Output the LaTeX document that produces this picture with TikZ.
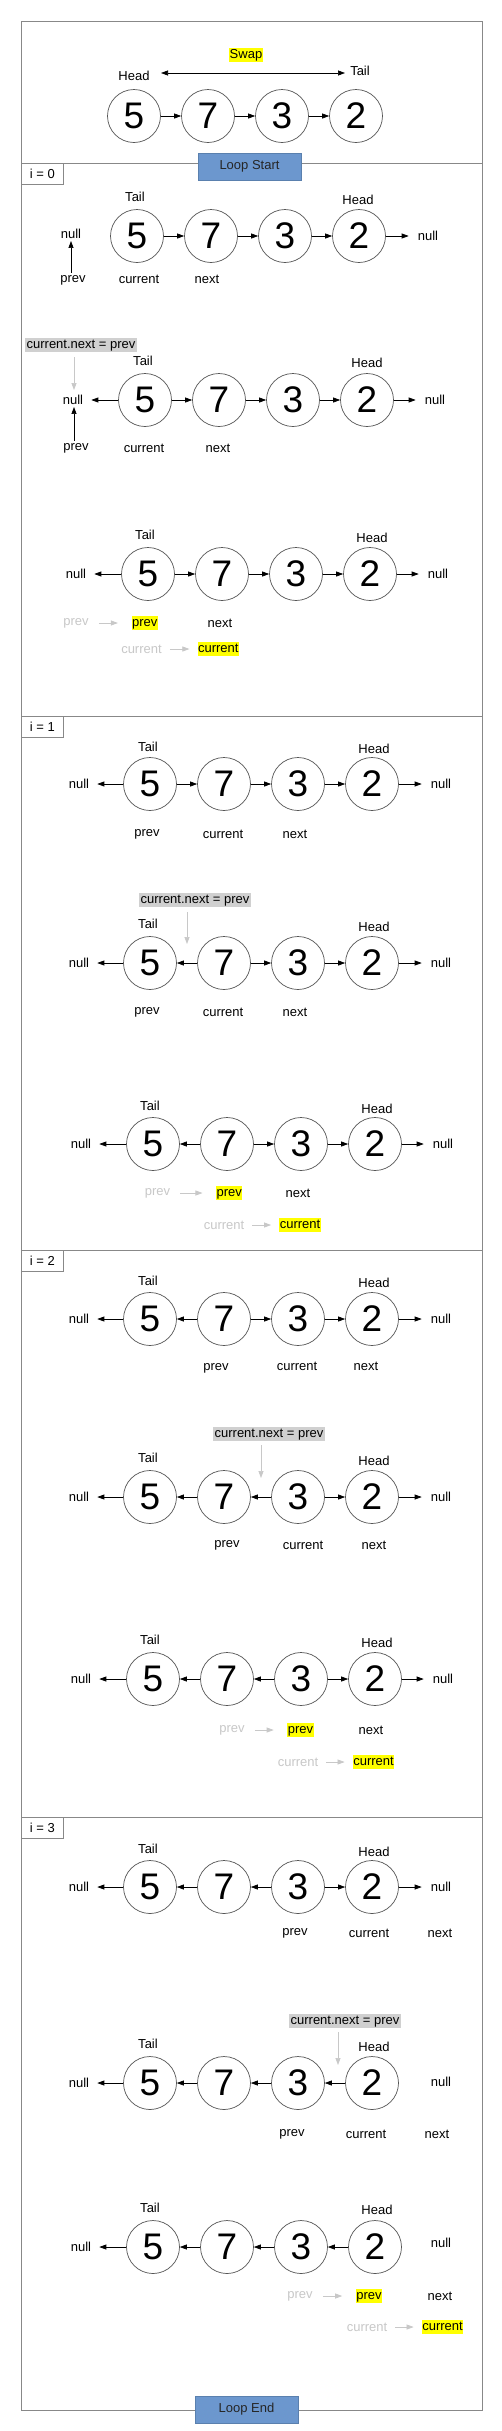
\documentclass[tikz,border=0pt]{standalone}
\usepackage{fontspec}
\setmainfont{Liberation Sans}
\usetikzlibrary{arrows.meta}
\definecolor{framec}{HTML}{888888}
\definecolor{circc}{HTML}{555555}
\definecolor{loopfill}{HTML}{6C97CE}
\definecolor{loopdraw}{HTML}{5A80AE}
\definecolor{hlyellow}{HTML}{FFFF00}
\definecolor{hlgray}{HTML}{D0D0D0}
\definecolor{fadec}{HTML}{C8C8C8}
\newcommand{\mkrow}[3]{%
  \node[cnode] (#1a) at (#2,#3) {5};
  \node[cnode] (#1b) at ({#2+74},#3) {7};
  \node[cnode] (#1c) at ({#2+148},#3) {3};
  \node[cnode] (#1d) at ({#2+222},#3) {2};
}
\begin{document}
\begin{tikzpicture}[x=1pt,y=-1pt,
  cnode/.style={circle,draw=circc,line width=0.7pt,minimum size=53pt,inner sep=0pt,font=\fontsize{37}{37}\selectfont},
  lab/.style={inner sep=2pt,font=\fontsize{13}{15}\selectfont},
  ylab/.style={lab,fill=hlyellow,inner xsep=0.5pt,inner ysep=1pt,text height=9.5pt,text depth=2.8pt},
  glab/.style={lab,fill=hlgray,inner xsep=1.2pt,inner ysep=1.2pt,text height=9.5pt,text depth=2.8pt},
  flab/.style={lab,text=fadec},
  lnk/.style={-{Triangle[length=7pt,width=5pt]},line width=0.7pt,black},
  lnkL/.style={lnk,shorten >=6pt},
  lnkR/.style={lnk,shorten >=7pt},
  flnk/.style={-{Triangle[length=7pt,width=5pt]},line width=0.7pt,fadec},
  fprev/.style={flnk,shorten <=8pt,shorten >=13.5pt},
  fcur/.style={flnk,shorten <=6pt,shorten >=8pt},
  ibox/.style={draw=framec,fill=white,line width=0.9pt,minimum width=42pt,minimum height=21pt,anchor=north west,inner sep=0pt,font=\fontsize{13}{15}\selectfont},
  loopbox/.style={draw=loopdraw,fill=loopfill,line width=0.6pt,minimum width=103pt,minimum height=27pt,inner sep=0pt,font=\fontsize{13}{15}\selectfont,text=black!85}
]
\useasboundingbox (0,0) rectangle (502,2431);
\fill[white] (0,0) rectangle (502,2431);
% frame
\draw[framec,line width=0.9pt] (21,21) rectangle (482,2410);
\foreach \yy in {163,716,1250,1817} \draw[framec,line width=0.9pt] (21,\yy) -- (482,\yy);
\node[ibox] (i0) at (21,163) {i = 0};
\node[ibox] (i1) at (21,716) {i = 1};
\node[ibox] (i2) at (21,1250) {i = 2};
\node[ibox] (i3) at (21,1817) {i = 3};

% ---------- top ----------
\node[ylab] (swap) at (246,55) {Swap};
\node[lab] (Thead) at (134,76) {Head};
\node[lab] (Ttail) at (360,71) {Tail};
\coordinate (sw1) at (161,73);
\coordinate (sw2) at (345,73);
\draw[{Triangle[length=7pt,width=5pt]}-{Triangle[length=7pt,width=5pt]},line width=0.7pt] (sw1) -- (sw2);
\mkrow{T}{134}{116}
\draw[lnk] (Ta) -- (Tb); \draw[lnk] (Tb) -- (Tc); \draw[lnk] (Tc) -- (Td);
\node[loopbox] (loopstart) at (249.5,166.5) {Loop Start};

% ---------- i = 0 ----------
% A1
\node[lab] (A1tail) at (135,197) {Tail};
\node[lab] (A1head) at (358,200) {Head};
\mkrow{A1}{137}{236}
\node[lab] (A1nl) at (71,234) {null};
\node[lab] (A1nr) at (428,236) {null};
\node[lab] (A1prev) at (73,280) {prev};
\node[lab] (A1cur) at (139,279) {current};
\node[lab] (A1next) at (207,279) {next};
\draw[lnk] (A1a) -- (A1b); \draw[lnk] (A1b) -- (A1c); \draw[lnk] (A1c) -- (A1d);
\draw[lnkR] (A1d) -- (A1nr);
\draw[lnk] (A1prev.north -| A1nl) -- (A1nl.south);
% A2
\node[glab] (A2op) at (81,345) {current.next = prev};
\coordinate (A2g1) at (74,357); \coordinate (A2g2) at (74,390);
\draw[flnk] (A2g1) -- (A2g2);
\node[lab] (A2tail) at (143,361) {Tail};
\node[lab] (A2head) at (367,363) {Head};
\mkrow{A2}{145}{400}
\node[lab] (A2nl) at (73,400) {null};
\node[lab] (A2nr) at (435,400) {null};
\node[lab] (A2prev) at (76,448) {prev};
\node[lab] (A2cur) at (144,448) {current};
\node[lab] (A2next) at (218,448) {next};
\draw[lnkL] (A2a) -- (A2nl);
\draw[lnk] (A2a) -- (A2b); \draw[lnk] (A2b) -- (A2c); \draw[lnk] (A2c) -- (A2d);
\draw[lnkR] (A2d) -- (A2nr);
\draw[lnk] (A2prev.north -| A2g1) -- (A2nl.south -| A2g1);
% A3
\node[lab] (A3tail) at (145,535) {Tail};
\node[lab] (A3head) at (372,538) {Head};
\mkrow{A3}{148}{574}
\node[lab] (A3nl) at (76,574) {null};
\node[lab] (A3nr) at (438,574) {null};
\draw[lnkL] (A3a) -- (A3nl);
\draw[lnk] (A3a) -- (A3b); \draw[lnk] (A3b) -- (A3c); \draw[lnk] (A3c) -- (A3d);
\draw[lnkR] (A3d) -- (A3nr);
\node[flab] (A3pg) at (76,623) {prev};
\node[ylab] (A3py) at (144.7,623) {prev};
\node[lab] (A3next) at (220,623) {next};
\node[flab] (A3cg) at (141.5,649) {current};
\node[ylab] (A3cy) at (218.3,649) {current};
\draw[fprev] (A3pg) -- (A3py);
\draw[fcur] (A3cg) -- (A3cy);

% ---------- i = 1 ----------
% B1
\node[lab] (B1tail) at (148,747) {Tail};
\node[lab] (B1head) at (374,749) {Head};
\mkrow{B1}{150}{784}
\node[lab] (B1nl) at (79,784) {null};
\node[lab] (B1nr) at (441,784) {null};
\draw[lnkL] (B1a) -- (B1nl);
\draw[lnk] (B1a) -- (B1b); \draw[lnk] (B1b) -- (B1c); \draw[lnk] (B1c) -- (B1d);
\draw[lnkR] (B1d) -- (B1nr);
\node[lab] (B1prev) at (147,834) {prev};
\node[lab] (B1cur) at (223,834) {current};
\node[lab] (B1next) at (295,834) {next};
% B2
\node[glab] (B2op) at (195,900) {current.next = prev};
\coordinate (B2g1) at (187,912); \coordinate (B2g2) at (187,944);
\draw[flnk] (B2g1) -- (B2g2);
\node[lab] (B2tail) at (148,924) {Tail};
\node[lab] (B2head) at (374,927) {Head};
\mkrow{B2}{150}{963}
\node[lab] (B2nl) at (79,963) {null};
\node[lab] (B2nr) at (441,963) {null};
\draw[lnkL] (B2a) -- (B2nl);
\draw[lnk] (B2b) -- (B2a); \draw[lnk] (B2b) -- (B2c); \draw[lnk] (B2c) -- (B2d);
\draw[lnkR] (B2d) -- (B2nr);
\node[lab] (B2prev) at (147,1012) {prev};
\node[lab] (B2cur) at (223,1012) {current};
\node[lab] (B2next) at (295,1012) {next};
% B3
\node[lab] (B3tail) at (150,1106) {Tail};
\node[lab] (B3head) at (377,1109) {Head};
\mkrow{B3}{153}{1144}
\node[lab] (B3nl) at (81,1144) {null};
\node[lab] (B3nr) at (443,1144) {null};
\draw[lnkL] (B3a) -- (B3nl);
\draw[lnk] (B3b) -- (B3a); \draw[lnk] (B3b) -- (B3c); \draw[lnk] (B3c) -- (B3d);
\draw[lnkR] (B3d) -- (B3nr);
\node[flab] (B3pg) at (157.5,1193) {prev};
\node[ylab] (B3py) at (229.3,1193) {prev};
\node[lab] (B3next) at (298,1193) {next};
\node[flab] (B3cg) at (224,1225) {current};
\node[ylab] (B3cy) at (300,1225) {current};
\draw[fprev] (B3pg) -- (B3py);
\draw[fcur] (B3cg) -- (B3cy);

% ---------- i = 2 ----------
% C1
\node[lab] (C1tail) at (148,1281) {Tail};
\node[lab] (C1head) at (374,1283) {Head};
\mkrow{C1}{150}{1319}
\node[lab] (C1nl) at (79,1319) {null};
\node[lab] (C1nr) at (441,1319) {null};
\draw[lnkL] (C1a) -- (C1nl);
\draw[lnk] (C1b) -- (C1a); \draw[lnk] (C1b) -- (C1c); \draw[lnk] (C1c) -- (C1d);
\draw[lnkR] (C1d) -- (C1nr);
\node[lab] (C1prev) at (216,1368) {prev};
\node[lab] (C1cur) at (297,1366) {current};
\node[lab] (C1next) at (366,1366) {next};
% C2
\node[glab] (C2op) at (269,1434) {current.next = prev};
\coordinate (C2g1) at (261,1445); \coordinate (C2g2) at (261,1478);
\draw[flnk] (C2g1) -- (C2g2);
\node[lab] (C2tail) at (148,1458) {Tail};
\node[lab] (C2head) at (374,1461) {Head};
\mkrow{C2}{150}{1497}
\node[lab] (C2nl) at (79,1497) {null};
\node[lab] (C2nr) at (441,1497) {null};
\draw[lnkL] (C2a) -- (C2nl);
\draw[lnk] (C2b) -- (C2a); \draw[lnk] (C2c) -- (C2b); \draw[lnk] (C2c) -- (C2d);
\draw[lnkR] (C2d) -- (C2nr);
\node[lab] (C2prev) at (227,1545) {prev};
\node[lab] (C2cur) at (303,1545) {current};
\node[lab] (C2next) at (374,1545) {next};
% C3
\node[lab] (C3tail) at (150,1640) {Tail};
\node[lab] (C3head) at (377,1643) {Head};
\mkrow{C3}{153}{1679}
\node[lab] (C3nl) at (81,1679) {null};
\node[lab] (C3nr) at (443,1679) {null};
\draw[lnkL] (C3a) -- (C3nl);
\draw[lnk] (C3b) -- (C3a); \draw[lnk] (C3c) -- (C3b); \draw[lnk] (C3c) -- (C3d);
\draw[lnkR] (C3d) -- (C3nr);
\node[flab] (C3pg) at (232,1730) {prev};
\node[ylab] (C3py) at (300.5,1730) {prev};
\node[lab] (C3next) at (371,1730) {next};
\node[flab] (C3cg) at (298,1762) {current};
\node[ylab] (C3cy) at (373.5,1762) {current};
\draw[fprev] (C3pg) -- (C3py);
\draw[fcur] (C3cg) -- (C3cy);

% ---------- i = 3 ----------
% D1
\node[lab] (D1tail) at (148,1849) {Tail};
\node[lab] (D1head) at (374,1852) {Head};
\mkrow{D1}{150}{1887}
\node[lab] (D1nl) at (79,1887) {null};
\node[lab] (D1nr) at (441,1887) {null};
\draw[lnkL] (D1a) -- (D1nl);
\draw[lnk] (D1b) -- (D1a); \draw[lnk] (D1c) -- (D1b); \draw[lnk] (D1c) -- (D1d);
\draw[lnkR] (D1d) -- (D1nr);
\node[lab] (D1prev) at (295,1933) {prev};
\node[lab] (D1cur) at (369,1933) {current};
\node[lab] (D1next) at (440,1933) {next};
% D2
\node[glab] (D2op) at (345,2021) {current.next = prev};
\coordinate (D2g1) at (338,2032); \coordinate (D2g2) at (338,2065);
\draw[flnk] (D2g1) -- (D2g2);
\node[lab] (D2tail) at (148,2044) {Tail};
\node[lab] (D2head) at (374,2047) {Head};
\mkrow{D2}{150}{2083}
\node[lab] (D2nl) at (79,2083) {null};
\node[lab] (D2nr) at (441,2082) {null};
\draw[lnkL] (D2a) -- (D2nl);
\draw[lnk] (D2b) -- (D2a); \draw[lnk] (D2c) -- (D2b); \draw[lnk] (D2d) -- (D2c);
\node[lab] (D2prev) at (292,2134) {prev};
\node[lab] (D2cur) at (366,2134) {current};
\node[lab] (D2next) at (437,2134) {next};
% D3
\node[lab] (D3tail) at (150,2208) {Tail};
\node[lab] (D3head) at (377,2210) {Head};
\mkrow{D3}{153}{2247}
\node[lab] (D3nl) at (81,2247) {null};
\node[lab] (D3nr) at (441,2243) {null};
\draw[lnkL] (D3a) -- (D3nl);
\draw[lnk] (D3b) -- (D3a); \draw[lnk] (D3c) -- (D3b); \draw[lnk] (D3d) -- (D3c);
\node[flab] (D3pg) at (300,2296) {prev};
\node[ylab] (D3py) at (369,2296) {prev};
\node[lab] (D3next) at (440,2296) {next};
\node[flab] (D3cg) at (367,2327) {current};
\node[ylab] (D3cy) at (442.5,2327) {current};
\draw[fprev] (D3pg) -- (D3py);
\draw[fcur] (D3cg) -- (D3cy);

\node[loopbox] (loopend) at (246.5,2409.5) {Loop End};
\end{tikzpicture}
\end{document}
